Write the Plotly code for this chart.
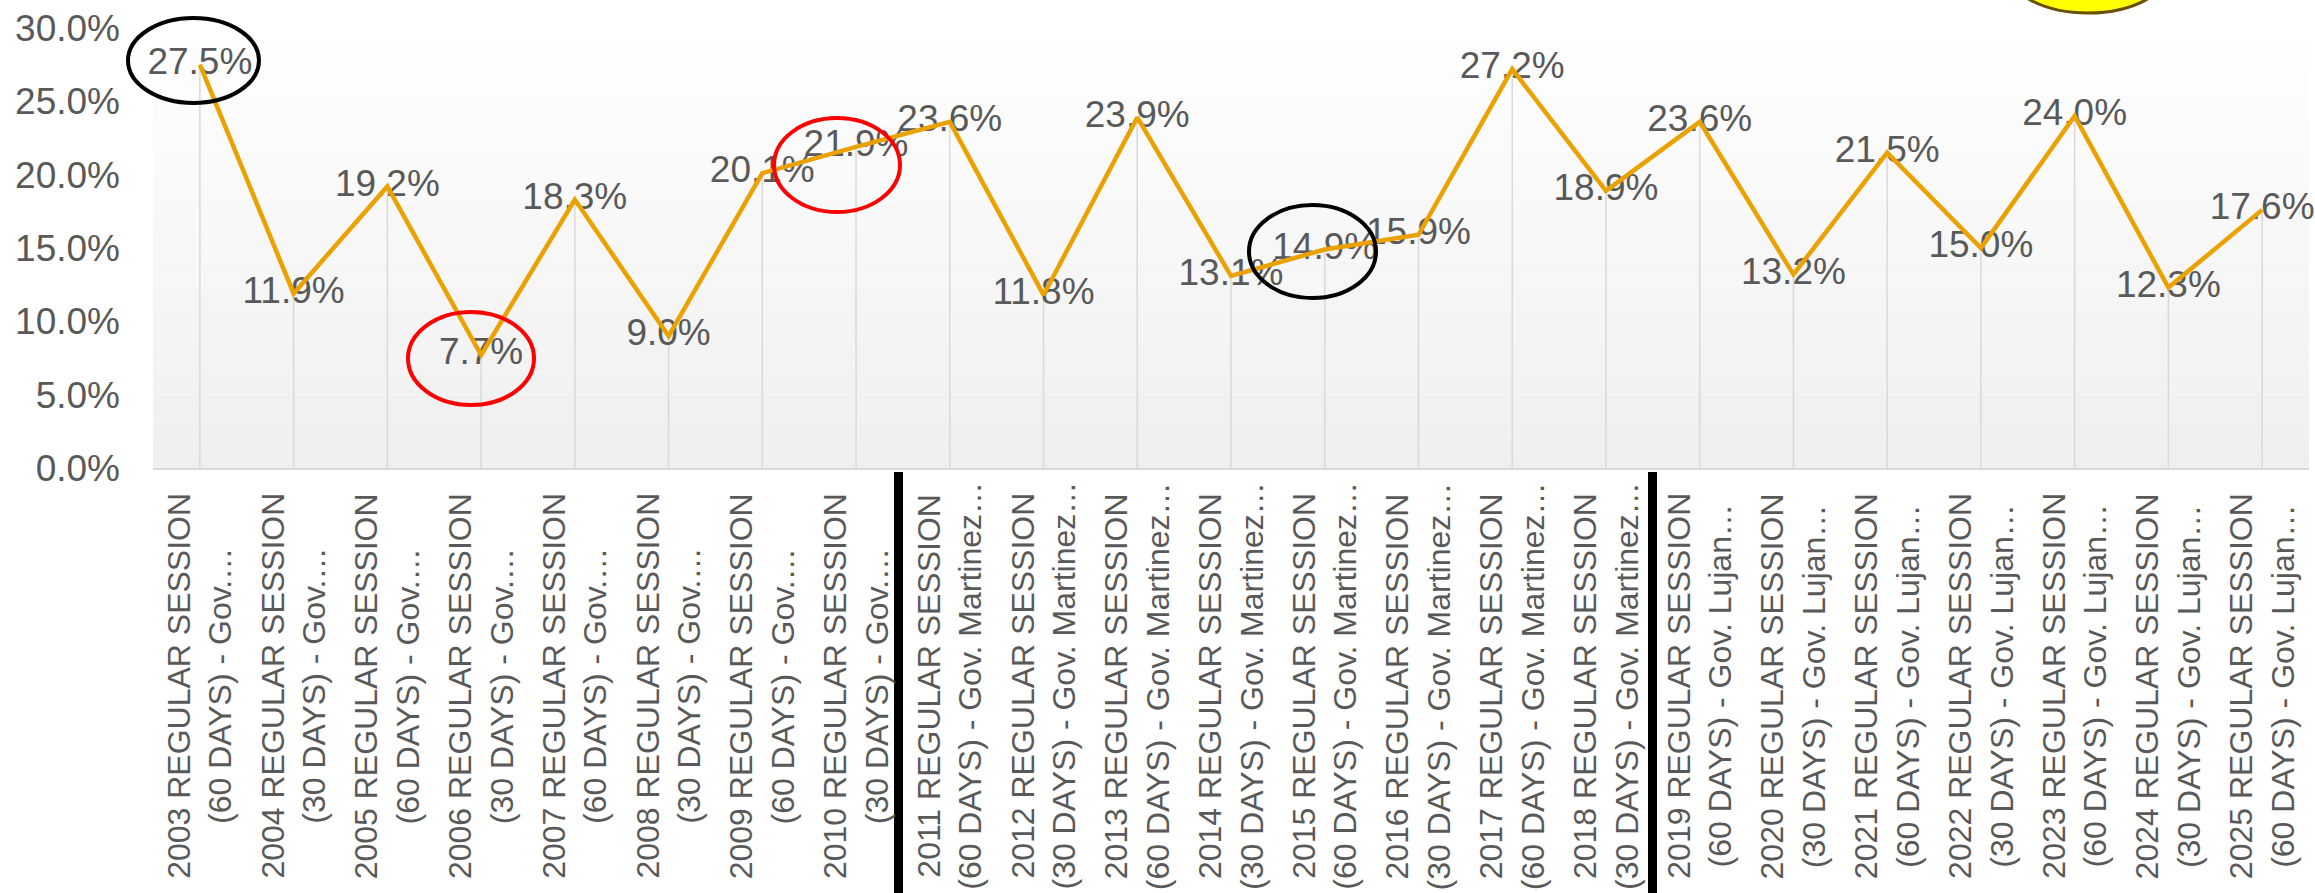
import plotly.graph_objects as go

# ---- data ----
years = [str(y) for y in range(2003, 2026)]
session_days = ["60", "30", "60", "30", "60", "30", "60", "30",
                "60", "30", "60", "30", "60", "30", "60", "30",
                "60", "30", "60", "30", "60", "30", "60"]
governor_suffix = (["Gov.\u2026"] * 8 + ["Gov. Martinez\u2026"] * 8 + ["Gov. Lujan\u2026"] * 7)
values = [27.5, 11.9, 19.2, 7.7, 18.3, 9.0, 20.1, 21.9, 23.6, 11.8, 23.9, 13.1,
          14.9, 15.9, 27.2, 18.9, 23.6, 13.2, 21.5, 15.0, 24.0, 12.3, 17.6]
value_labels = ["%.1f%%" % v for v in values]
y_ticks = [0, 5, 10, 15, 20, 25, 30]
y_tick_labels = ["%.1f%%" % t for t in y_ticks]

categories = ["%s REGULAR SESSION<br>(%s DAYS) - %s" % (y, d, g)
              for y, d, g in zip(years, session_days, governor_suffix)]
x_idx = list(range(len(categories)))

# ---- layout geometry ----
W, H = 2315, 893
ML, MR, MT, MB = 153, 6, 28, 425
PL, PR, PT, PB = ML, W - MR, MT, H - MB


def px(x):
    return (x - PL) / (PR - PL)


def py(y):
    return (PB - y) / (PB - PT)


FONT = "Liberation Sans, Arial, sans-serif"
GREY = "#595959"
ORANGE = "#EBA100"

fig = go.Figure()

# drop lines (from points to the axis)
fig.add_trace(go.Scatter(
    x=x_idx, y=values, mode="markers",
    marker=dict(size=1, color="rgba(0,0,0,0)"),
    error_y=dict(type="data", symmetric=False, array=[0] * len(values),
                 arrayminus=values, color="#d9d9d9", thickness=1.5, width=0),
    hoverinfo="skip", showlegend=False, cliponaxis=False))

# data labels
fig.add_trace(go.Scatter(
    x=x_idx, y=values, mode="text", text=value_labels,
    textposition="middle center",
    textfont=dict(family=FONT, size=37, color=GREY),
    hoverinfo="skip", showlegend=False, cliponaxis=False))

# the line
fig.add_trace(go.Scatter(
    x=x_idx, y=values, mode="lines",
    line=dict(color=ORANGE, width=4.5),
    showlegend=False, cliponaxis=False))

shapes = []
# gradient background of the plot area
n_bands = 60
for i in range(n_bands):
    f = i / (n_bands - 1)
    c = int(round(255 - f * (255 - 239)))
    shapes.append(dict(type="rect", xref="paper", yref="paper",
                       x0=0, x1=1, y0=1 - (i + 1) / n_bands, y1=1 - i / n_bands,
                       fillcolor="rgb(%d,%d,%d)" % (c, c, c), line=dict(width=0),
                       layer="below"))

# separators between governors
for sx in (898.5, 1652.5):
    shapes.append(dict(type="line", xref="paper", yref="paper",
                       x0=px(sx), x1=px(sx), y0=py(472), y1=py(900),
                       line=dict(color="black", width=9)))

# highlight ellipses
ellipses = [
    ((128, 18, 259, 103), "black", None, 4),
    ((774, 118, 900, 212), "#ff0000", None, 4),
    ((408, 312, 534, 405), "#ff0000", None, 4),
    ((1249, 205, 1376, 298), "black", None, 4),
    ((2006, -77, 2170, 13), "#6b4f00", "#ffff00", 3),
]
for (x0, y0, x1, y1), lc, fc, lw in ellipses:
    d = dict(type="circle", xref="paper", yref="paper",
             x0=px(x0), x1=px(x1), y0=py(y1), y1=py(y0),
             line=dict(color=lc, width=lw), layer="above")
    if fc:
        d["fillcolor"] = fc
    shapes.append(d)

annotations = []
for i, cat in enumerate(categories):
    annotations.append(dict(
        x=i, xref="x", y=py(686), yref="paper",
        text=cat, showarrow=False, textangle=-90,
        xanchor="center", yanchor="middle", align="center",
        font=dict(family=FONT, size=32, color=GREY)))

fig.update_layout(
    width=W, height=H,
    margin=dict(l=ML, r=MR, t=MT, b=MB, pad=0, autoexpand=False),
    paper_bgcolor="white", plot_bgcolor="white",
    shapes=shapes, annotations=annotations,
    xaxis=dict(range=[-0.5, len(categories) - 0.5], showgrid=False,
               zeroline=False, showticklabels=False, ticks="",
               automargin=False,
               showline=True, linecolor="#d9d9d9", linewidth=2),
    yaxis=dict(range=[0, 30], tickvals=y_ticks, ticktext=y_tick_labels,
               showgrid=False, zeroline=False, showline=False, ticks="",
               automargin=False, ticklabelstandoff=32,
               tickfont=dict(family=FONT, size=37, color=GREY)),
)

fig.write_html(
    "out.html",
    config={"displayModeBar": False},
    post_script="document.body.style.margin='0';document.body.style.padding='0';"
                "document.body.style.overflow='hidden';"
                "document.documentElement.style.overflow='hidden';")
